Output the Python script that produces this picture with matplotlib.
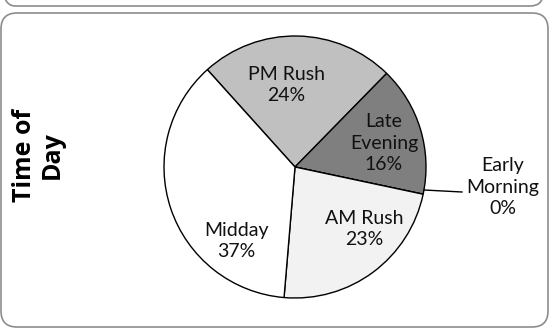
import matplotlib.pyplot as plt
from matplotlib.patches import FancyBboxPatch

# Slice data (clockwise from the upper-left boundary)
labels = ['PM Rush', 'Late\nEvening', 'Early\nMorning', 'AM Rush', 'Midday']
values = [24, 16, 0, 23, 37]
colors = ['#c0c0c0', '#7f7f7f', '#ffffff', '#f2f2f2', '#ffffff']
axis_title = 'Time of\nDay'

W, H = 550, 328
fig = plt.figure(figsize=(5.5, 3.28), dpi=100)
ax = fig.add_axes([0, 0, 1, 1])

plt.rcParams['font.family'] = ['Lato', 'DejaVu Sans']

cx, cy, r = 295, H - 167, 131
wedges, _ = ax.pie(values, colors=colors, startangle=132, counterclock=False,
                   center=(cx, cy), radius=r,
                   wedgeprops=dict(edgecolor='black', linewidth=1.0))

ax.set_xlim(0, W)
ax.set_ylim(0, H)
ax.set_aspect('equal')
ax.axis('off')

# slice labels
pos = [(286, 85), (384, 143), (503, 187), (364, 229), (236, 241)]
for lab, v, (x, y) in zip(labels, values, pos):
    ax.text(x, H - y, f'{lab}\n{v}%', ha='center', va='center',
            fontsize=14, linespacing=1.3, color='#111111')

# leader line for the 0% slice
ax.plot([424, 462], [H - 190, H - 192], color='black', lw=1)

# axis title on the left
ax.text(38, H - 155, axis_title, rotation=90, ha='center', va='center',
        fontsize=18, fontweight='bold', linespacing=1.15, color='black',
        family=['Open Sans', 'DejaVu Sans'])

# rounded frames
top_box = FancyBboxPatch((2, H - 6), 541, 40, boxstyle='round,pad=0,rounding_size=13',
                         fill=False, edgecolor='#8c8c8c', lw=1.2)
main_box = FancyBboxPatch((1, H - 327), 547, 314, boxstyle='round,pad=0,rounding_size=16',
                          fill=False, edgecolor='#8c8c8c', lw=1.2)
ax.add_patch(top_box)
ax.add_patch(main_box)
main_box.set_clip_on(False)
top_box.set_clip_on(False)

plt.savefig('out.png', dpi=100)
